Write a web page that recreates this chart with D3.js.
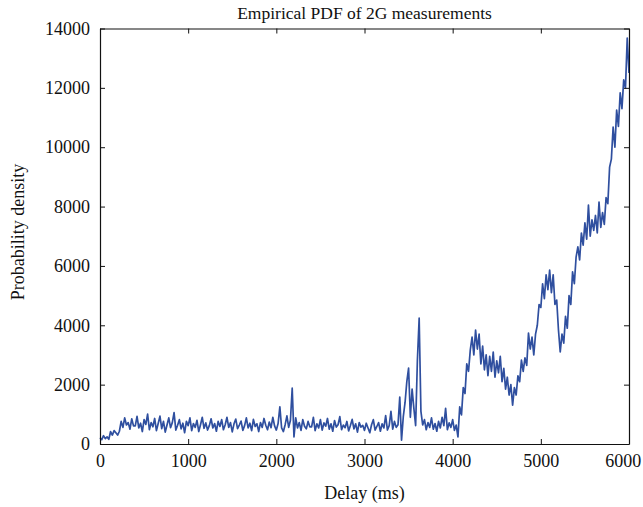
<!DOCTYPE html>
<html>
<head>
<meta charset="utf-8">
<script src="https://cdn.jsdelivr.net/npm/d3@7"></script>
<style>
  body { margin: 0; background: #fff; }
  text { font-family: "Liberation Serif", "DejaVu Serif", serif; fill: #111; }
</style>
</head>
<body>
<div id="chart"></div>
<script>
// delay step of the samples (ms), values are the density
var stepMs = 20;
var density = [
  210, 150, 280, 180, 240, 160, 420, 300, 450, 380,
  300, 430, 760, 560, 880, 640, 720, 500, 850, 610,
  610, 930, 540, 700, 420, 820, 660, 1010, 480, 720,
  580, 860, 450, 690, 940, 520, 760, 400, 640, 880,
  550, 720, 1060, 470, 630, 820, 510, 700, 380, 760,
  620, 880, 450, 690, 560, 800, 420, 650, 900, 530,
  710, 470, 620, 850, 540, 690, 430, 760, 590, 820,
  480, 650, 900, 560, 720, 410, 680, 840, 520, 640,
  770, 460, 620, 880, 540, 700, 450, 830, 590, 680,
  420, 720, 560, 860, 630, 480, 740, 550, 900, 610,
  470, 690, 1250, 540, 420, 650, 950, 560, 800, 1880,
  240, 880, 540, 720, 460, 820, 600, 510, 760, 580,
  580, 900, 450, 680, 540, 820, 470, 710, 600, 860,
  500, 680, 430, 790, 570, 650, 920, 480, 640, 550,
  760, 440, 620, 830, 510, 680, 400, 720, 570, 630,
  460, 700, 540, 380, 650, 820, 470, 590, 720, 430,
  680, 540, 960, 470, 620, 1100, 500, 760, 560, 650,
  1580, 130, 920, 1400, 2100, 2560, 900, 1850, 1200, 620,
  2830, 4240, 1100, 640, 820, 480, 720, 560, 880, 500,
  690, 430, 760, 540, 900, 620, 1200, 480, 710, 560,
  820, 460, 640, 240, 1250, 980, 1900, 1700, 2700, 2450,
  3170, 3600, 3000, 3840, 3200, 3700, 2700, 3300, 2500, 3000,
  2300, 2950, 2450, 3100, 2250, 2800, 2400, 2950, 2100, 2550,
  1850, 2250, 1650, 2000, 1310, 1900, 1650, 2300, 2100, 2830,
  2450, 2900, 2650, 3740, 3200, 3600, 3000, 3700, 4000, 4700,
  4600, 5400, 4900, 5700, 5200, 5860, 5100, 5700, 4700, 4850,
  3840, 3100, 3700, 3400, 4300, 3900, 5000, 4700, 5800, 5400,
  6300, 6640, 6200, 7110, 6700, 7450, 6900, 8050, 7000, 7550,
  7200, 7700, 7110, 8150, 7300, 7800, 7400, 8300, 8100, 9330,
  9600, 10680, 10000, 11250, 10700, 11830, 11300, 12270, 12000, 13680,
  12500
];
var xTicks = [0, 1000, 2000, 3000, 4000, 5000, 6000];
var yTicks = [0, 2000, 4000, 6000, 8000, 10000, 12000, 14000];

var W = 643, H = 507;
var margin = { top: 28.5, right: 14, bottom: 63, left: 100 };

var svg = d3.select("#chart").append("svg")
  .attr("width", W)
  .attr("height", H);

var x = d3.scaleLinear().domain([0, 6000]).range([margin.left, W - margin.right]);
var y = d3.scaleLinear().domain([0, 14000]).range([H - margin.bottom, margin.top]);

var points = density.map(function (v, i) { return { ms: i * stepMs, v: v }; });

var line = d3.line()
  .x(function (d) { return x(d.ms); })
  .y(function (d) { return y(d.v); });

svg.append("path")
  .datum(points)
  .attr("d", line)
  .style("fill", "none")
  .style("stroke", "#2f4f9f")
  .style("stroke-width", 1.7)
  .style("stroke-linejoin", "round");

// frame with inward ticks on all four sides
var fs = "18px";
var fmt = d3.format("d");
var axBottom = svg.append("g")
  .attr("transform", "translate(0," + y(0) + ")")
  .call(d3.axisBottom(x).tickValues(xTicks).tickSizeInner(-5).tickSizeOuter(0).tickPadding(10).tickFormat(fmt));
var axTop = svg.append("g")
  .attr("transform", "translate(0," + y(14000) + ")")
  .call(d3.axisTop(x).tickValues(xTicks).tickSizeInner(-5).tickSizeOuter(0).tickFormat(""));
var axLeft = svg.append("g")
  .attr("transform", "translate(" + x(0) + ",0)")
  .call(d3.axisLeft(y).tickValues(yTicks).tickSizeInner(-5).tickSizeOuter(0).tickPadding(10).tickFormat(fmt));
var axRight = svg.append("g")
  .attr("transform", "translate(" + x(6000) + ",0)")
  .call(d3.axisRight(y).tickValues(yTicks).tickSizeInner(-5).tickSizeOuter(0).tickFormat(""));

[axBottom, axTop, axLeft, axRight].forEach(function (g) {
  g.select(".domain").attr("stroke", "#111").attr("stroke-width", 1.2);
  g.selectAll(".tick line").attr("stroke", "#111");
  g.selectAll("text")
    .style("font-family", "Liberation Serif, serif")
    .style("font-size", fs)
    .attr("fill", "#111");
});
// last x label sits inside the picture
axBottom.selectAll(".tick text").filter(function (d) { return d === 6000; })
  .attr("text-anchor", "end").attr("dx", "0.65em");

svg.append("text")
  .attr("x", (x(0) + x(6000)) / 2)
  .attr("y", 19)
  .attr("text-anchor", "middle")
  .attr("font-size", "17.5px")
  .text("Empirical PDF of 2G measurements");

svg.append("text")
  .attr("x", (x(0) + x(6000)) / 2)
  .attr("y", 499)
  .attr("text-anchor", "middle")
  .attr("font-size", "18px")
  .text("Delay (ms)");

svg.append("text")
  .attr("transform", "rotate(-90)")
  .attr("x", -232)
  .attr("y", 24)
  .attr("text-anchor", "middle")
  .attr("font-size", "18px")
  .text("Probability density");
</script>
</body>
</html>
